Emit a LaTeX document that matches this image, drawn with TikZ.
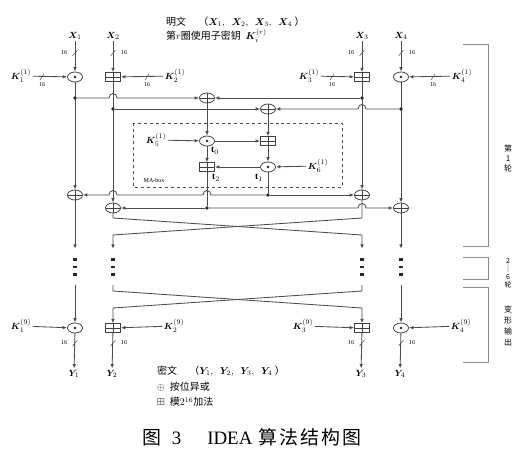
\documentclass[tikz,border=0pt]{standalone}
\usepackage{amsmath,amssymb}
\usepackage{bm}
\usepackage{fontspec}
\setmainfont{Liberation Serif}
\newfontfamily\cjk{Noto Sans CJK SC}
\usepackage{tikz}
\usetikzlibrary{shapes.geometric,arrows.meta,backgrounds}

\tikzset{
    wire/.style={draw=black!70, line width=0.85bp},
    arr/.style={wire, -{Latex[length=4.5bp,width=3.6bp]}},
    tk/.style={draw=black!70, line width=0.5bp},
    opbase/.style={draw=black!75, line width=0.8bp, fill=white, inner sep=0pt,
        minimum width=15bp},
    opmul/.style={opbase, ellipse, minimum height=10bp,
        path picture={\fill[black!85] (path picture bounding box.center) circle (1.4bp);}},
    opxor/.style={opbase, ellipse, minimum height=10bp,
        path picture={\draw[black!75,line width=0.6bp]
            (path picture bounding box.north) -- (path picture bounding box.south)
            (path picture bounding box.west) -- (path picture bounding box.east);}},
    opadd/.style={opbase, rectangle, minimum height=8.5bp,
        path picture={\draw[black!75,line width=0.6bp]
            (path picture bounding box.north) -- (path picture bounding box.south)
            (path picture bounding box.west) -- (path picture bounding box.east);}},
    jdot/.style={circle, fill=black!85, inner sep=0pt, minimum size=3.6bp},
    vdots3/.style={rectangle, inner sep=0pt, minimum width=5bp, minimum height=36bp,
        path picture={\foreach \d in {-7.5,0,7.5}
            \fill[black!85] ([yshift=\d bp]path picture bounding box.center)
                +(-1.6bp,-1.3bp) rectangle +(1.6bp,1.3bp);}},
    lbl/.style={font=\fontsize{9.5}{10}\selectfont, inner sep=1.5bp},
    txt/.style={font=\fontsize{10}{12}\selectfont, inner sep=0pt, anchor=west},
    wd/.style={font=\fontsize{6}{7}\selectfont, inner sep=0.5bp},
    side/.style={font=\fontsize{8}{10}\selectfont\cjk, align=center, inner sep=0pt},
    brk/.style={draw=black!45, line width=1bp},
}

\begin{document}
\begin{tikzpicture}[x=1bp,y=-1bp]
\useasboundingbox (0,0) rectangle (531,458);

% plaintext and key notes
\node[txt] (ptxt) at (166,22) {{\cjk 明文\quad\ （}$\bm{X}_1,\ \ \bm{X}_2,\ \ \bm{X}_3,\ \ \bm{X}_4$\ {\cjk ）}};
\node[txt] (ktxt) at (166,36) {{\cjk 第}$r${\cjk 圈使用子密钥}\ \ $\bm{K}_i^{(r)}$};

% inputs
\foreach \x/\n in {75/1,113/2,362/3,401/4}
    \node[lbl] (x\n) at (\x,36) {$\bm{X}_{\n}$};

% round 1, key layer
\node[opmul] (mul1) at (75,77) {};
\node[opadd] (add2) at (113,77) {};
\node[opadd] (add3) at (362,77) {};
\node[opmul] (mul4) at (401,77) {};
\node[lbl] (k1) at (21,76) {$\bm{K}_1^{(1)}$};
\node[lbl] (k2) at (175,76) {$\bm{K}_2^{(1)}$};
\node[lbl] (k3) at (309,76) {$\bm{K}_3^{(1)}$};
\node[lbl] (k4) at (462,76) {$\bm{K}_4^{(1)}$};

% xor layer
\node[jdot] (d1) at (75,98) {};
\node[jdot] (d3) at (362,98) {};
\node[jdot] (d2) at (113,109) {};
\node[jdot] (d4) at (401,109) {};
\node[opxor] (xa) at (207,98) {};
\node[opxor] (xb) at (268,109) {};

% MA-box
\node[opmul] (mul5) at (207,141) {};
\node[opadd] (add6) at (268,141) {};
\node[opmul] (mul6) at (268,167) {};
\node[opadd] (add5) at (207,167) {};
\node[lbl] (k5) at (156,140) {$\bm{K}_5^{(1)}$};
\node[lbl] (k6) at (318,166) {$\bm{K}_6^{(1)}$};
\node[lbl] (t0) at (215,151) {$\mathbf{t}_0$};
\node[lbl] (t1) at (259,178) {$\mathbf{t}_1$};
\node[lbl] (t2) at (216,178) {$\mathbf{t}_2$};
\node[wd] (mab) at (154,180) {MA-box};

% output xor layer
\node[jdot] (dt1) at (268,195) {};
\node[jdot] (dt2) at (207,208) {};
\node[opxor] (xo1) at (75,195) {};
\node[opxor] (xo3) at (362,195) {};
\node[opxor] (xo2) at (113,208) {};
\node[opxor] (xo4) at (401,208) {};

% rounds 2-8
\foreach \x/\n in {75/1,113/2,362/3,401/4}
    \node[vdots3] (v\n) at (\x,267) {};
\coordinate (c2a) at (113,218); \coordinate (c3b) at (362,235);
\coordinate (c3a) at (362,218); \coordinate (c2b) at (113,235);
\coordinate (e2a) at (113,291); \coordinate (e3b) at (362,308);
\coordinate (e3a) at (362,291); \coordinate (e2b) at (113,308);

% output transformation
\node[opmul] (omul1) at (75,328) {};
\node[opadd] (oadd2) at (113,328) {};
\node[opadd] (oadd3) at (362,328) {};
\node[opmul] (omul4) at (401,328) {};
\node[lbl] (q1) at (21,326) {$\bm{K}_1^{(9)}$};
\node[lbl] (q2) at (174,326) {$\bm{K}_2^{(9)}$};
\node[lbl] (q3) at (303,326) {$\bm{K}_3^{(9)}$};
\node[lbl] (q4) at (461,326) {$\bm{K}_4^{(9)}$};
\foreach \x/\n in {74/1,112/2,361/3,400/4}
    \node[lbl] (y\n) at (\x,374) {$\bm{Y}_{\n}$};

\begin{pgfonlayer}{background}
    % columns
    \foreach \n/\m in {1/mul1,2/add2,3/add3,4/mul4}
        \draw[arr] (x\n) -- (\m);
    \draw[arr] (mul1) -- (xo1);
    \draw[arr] (add2) -- (xo2);
    \draw[arr] (add3) -- (xo3);
    \draw[arr] (mul4) -- (xo4);
    % subkeys
    \draw[arr] (k1) -- (mul1);
    \draw[arr] (k2) -- (add2);
    \draw[arr] (k3) -- (add3);
    \draw[arr] (k4) -- (mul4);
    % into the MA-box
    \draw[arr] (d1) -- (109,98) .. controls (109,92) and (117,92) .. (117,98) -- (xa);
    \draw[arr] (d3) -- (xa);
    \draw[arr] (d2) -- (xb);
    \draw[arr] (d4) -- (366,109) .. controls (366,103) and (358,103) .. (358,109) -- (xb);
    \draw[arr] (xa) -- (mul5);
    \draw[arr] (xb) -- (add6);
    \draw[arr] (k5) -- (mul5);
    \draw[arr] (mul5) -- (add6);
    \draw[arr] (add6) -- (mul6);
    \draw[arr] (k6) -- (mul6);
    \draw[arr] (mul6) -- (add5);
    \draw[arr] (mul5) -- (add5);
    \draw[wire] (mul6) -- (dt1);
    \draw[wire] (add5) -- (dt2);
    % out of the MA-box
    \draw[arr] (dt1) -- (211,195) .. controls (211,189) and (203,189) .. (203,195)
        -- (117,195) .. controls (117,189) and (109,189) .. (109,195) -- (xo1);
    \draw[arr] (dt1) -- (xo3);
    \draw[arr] (dt2) -- (xo2);
    \draw[arr] (dt2) -- (358,208) .. controls (358,202) and (366,202) .. (366,208) -- (xo4);
    % swap and further rounds
    \draw[arr] (xo1) -- (v1);
    \draw[arr] (xo4) -- (v4);
    \draw[arr] (xo2) -- (c2a) -- (c3b) -- (v3);
    \draw[arr] (xo3) -- (c3a) -- (c2b) -- (v2);
    \draw[arr] (v1) -- (omul1);
    \draw[arr] (v4) -- (omul4);
    \draw[arr] (v2) -- (e2a) -- (e3b) -- (oadd3);
    \draw[arr] (v3) -- (e3a) -- (e2b) -- (oadd2);
    % output keys and ciphertext
    \draw[arr] (q1) -- (omul1);
    \draw[arr] (q2) -- (oadd2);
    \draw[arr] (q3) -- (oadd3);
    \draw[arr] (q4) -- (omul4);
    \draw[arr] (omul1) -- (y1);
    \draw[arr] (oadd2) -- (y2);
    \draw[arr] (oadd3) -- (y3);
    \draw[arr] (omul4) -- (y4);
\end{pgfonlayer}

% word width marks
\foreach \x/\lx/\n in {75/64/1,113/124/2,362/351/3,401/412/4} {
    \draw[tk] (\x-2.5,56) -- (\x+2.5,50);
    \node[wd] (wt\n) at (\lx,53) {16};
    \draw[tk] (\x-2.5,346) -- (\x+2.5,340);
    \node[wd] (wb\n) at (\lx,343) {16};
}
\foreach \x/\n in {42/1,147/2,332/3,433/4} {
    \draw[tk] (\x-2,80) -- (\x+2,74);
    \node[wd] (wk\n) at (\x,85) {16};
}

% MA-box frame
\draw[black!70, line width=0.7bp, dashed] (133,123) rectangle (342,187);

% round brackets
\draw[brk] (463,45) -- (488,45) -- (488,247) -- (463,247);
\draw[brk] (463,257) -- (488,257) -- (488,279) -- (463,279);
\draw[brk] (463,287) -- (488,287) -- (488,362) -- (463,362);
\node[side] (r1) at (508,158) {第\\1\\轮};
\node[side, font=\fontsize{7}{8}\selectfont\cjk] (r2) at (508,273) {2\\｜\\6\\轮};
\node[side, font=\fontsize{8}{11}\selectfont\cjk] (r3) at (508,326) {变\\形\\输\\出};

% legend
\node[txt] (ctxt) at (157,371) {{\cjk 密文\quad\ （}$\bm{Y}_1,\ \ \bm{Y}_2,\ \ \bm{Y}_3,\ \ \bm{Y}_4$\ {\cjk ）}};
\node[txt] (lx) at (157,387) {$\oplus$\ \ {\cjk 按位异或}};
\node[txt] (la) at (157,402) {$\boxplus$\ \ {\cjk 模}$2^{16}${\cjk 加法}};

% caption
\node[inner sep=0pt, font=\fontsize{19}{20}\selectfont] (cap) at (252,437)
    {{\cjk 图}\hspace{10bp}3\hspace{26bp}IDEA\hspace{6bp}{\cjk 算\hspace{2bp}法\hspace{2bp}结\hspace{2bp}构\hspace{2bp}图}};
\end{tikzpicture}
\end{document}
